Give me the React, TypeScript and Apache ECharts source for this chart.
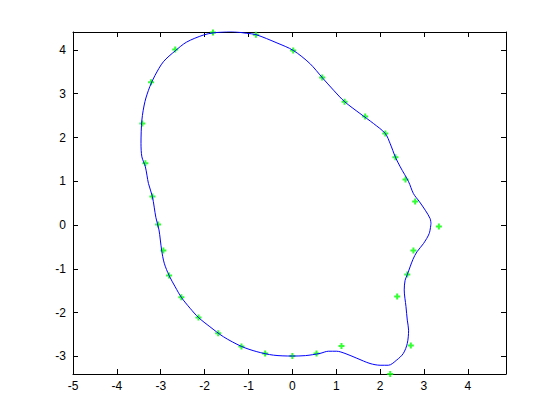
import React, { useEffect, useRef } from "react";
import * as echarts from "echarts";

// Measured data points (green markers)
const pointX = [-1.81, -0.83, 0.02, 0.68, 1.19, 1.66, 2.12, 2.35, 2.58, 2.80, 3.34, 2.76, 2.62, 2.39, 2.70, 2.23, 1.12, 0.55, 0.0, -0.62, -1.16, -1.69, -2.14, -2.53, -2.81, -2.94, -3.06, -3.19, -3.35, -3.42, -3.22, -2.67];
const pointY = [4.40, 4.35, 3.99, 3.37, 2.82, 2.48, 2.09, 1.55, 1.04, 0.54, -0.03, -0.58, -1.13, -1.63, -2.75, -3.40, -2.76, -2.93, -2.99, -2.93, -2.77, -2.47, -2.11, -1.65, -1.15, -0.58, 0.015, 0.655, 1.41, 2.32, 3.26, 4.01];

// Fitted closed curve (blue line)
const curveX = [3.16, 3.14, 3.03, 2.90, 2.76, 2.65, 2.46, 2.35, 2.23, 2.12, 1.85, 1.54, 1.19, 0.94, 0.68, 0.40, 0.02, -0.35, -0.83, -1.04, -1.40, -1.80, -2.03, -2.41, -2.67, -2.94, -3.13, -3.25, -3.36, -3.43, -3.45, -3.43, -3.35, -3.28, -3.19, -3.11, -3.04, -2.98, -2.92, -2.81, -2.67, -2.53, -2.33, -2.14, -1.88, -1.57, -1.16, -0.81, -0.43, 0.0, 0.30, 0.63, 0.82, 1.01, 1.20, 1.47, 1.77, 2.00, 2.19, 2.38, 2.53, 2.62, 2.65, 2.62, 2.59, 2.55, 2.57, 2.62, 2.75, 2.84, 2.99, 3.12, 3.16];
const curveY = [0.04, 0.15, 0.34, 0.53, 0.72, 0.99, 1.33, 1.55, 1.86, 2.09, 2.32, 2.55, 2.82, 3.08, 3.37, 3.69, 3.99, 4.16, 4.35, 4.38, 4.42, 4.39, 4.34, 4.18, 3.98, 3.73, 3.42, 3.16, 2.82, 2.40, 1.86, 1.56, 1.33, 0.95, 0.65, 0.17, -0.11, -0.57, -0.87, -1.15, -1.41, -1.65, -1.90, -2.11, -2.32, -2.55, -2.77, -2.89, -2.97, -2.99, -2.98, -2.93, -2.88, -2.88, -2.93, -3.04, -3.16, -3.20, -3.20, -3.08, -2.93, -2.70, -2.40, -2.17, -1.86, -1.48, -1.26, -1.13, -0.78, -0.61, -0.42, -0.19, 0.04];

const X_MIN = -5;
const X_MAX = 4.87;
const Y_MIN = -3.4;
const Y_MAX = 4.41;

const intLabel = (v: number) => (Math.abs(v - Math.round(v)) < 1e-6 ? String(Math.round(v)) : "");

export default function App() {
  const ref = useRef<HTMLDivElement>(null);
  useEffect(() => {
    if (!ref.current) return;
    const chart = echarts.init(ref.current, undefined, { renderer: "svg" });
    const axisLine = { show: true, onZero: false, lineStyle: { color: "#000", width: 1 } };
    const tick = { show: true, inside: true, length: 5, lineStyle: { color: "#000" } };
    const label = { color: "#000", fontSize: 12, fontFamily: "Liberation Sans, Arial, sans-serif", formatter: intLabel };
    const common = { type: "value" as const, minInterval: 1, maxInterval: 1, splitLine: { show: false }, axisLine, axisTick: tick };
    chart.setOption({
      animation: false,
      backgroundColor: "#fff",
      grid: { left: 73, right: 54, top: 32, bottom: 46 },
      xAxis: [
        { ...common, min: X_MIN, max: X_MAX, splitNumber: 10, position: "bottom", axisLabel: { ...label, margin: 6 } },
        { ...common, min: X_MIN, max: X_MAX, splitNumber: 10, position: "top", axisLabel: { show: false } },
      ],
      yAxis: [
        { ...common, min: Y_MIN, max: Y_MAX, splitNumber: 8, position: "left", axisLabel: { ...label, margin: 7 } },
        { ...common, min: Y_MIN, max: Y_MAX, splitNumber: 8, position: "right", axisLabel: { show: false } },
      ],
      series: [
        {
          type: "line",
          data: curveX.map((x, i) => [x, curveY[i]]),
          smooth: 0.3,
          showSymbol: false,
          symbol: "none",
          clip: true,
          lineStyle: { color: "#0000ff", width: 1 },
        },
        {
          type: "scatter",
          data: pointX.map((x, i) => [x, pointY[i]]),
          symbol: "path://M2,0H4V2H6V4H4V6H2V4H0V2H2Z",
          symbolSize: 6,
          clip: false,
          itemStyle: { color: "#00ff00" },
        },
      ],
    });
    return () => chart.dispose();
  }, []);
  return <div ref={ref} style={{ position: "absolute", left: 0, top: 0, width: 560, height: 420, background: "#fff" }} />;
}
